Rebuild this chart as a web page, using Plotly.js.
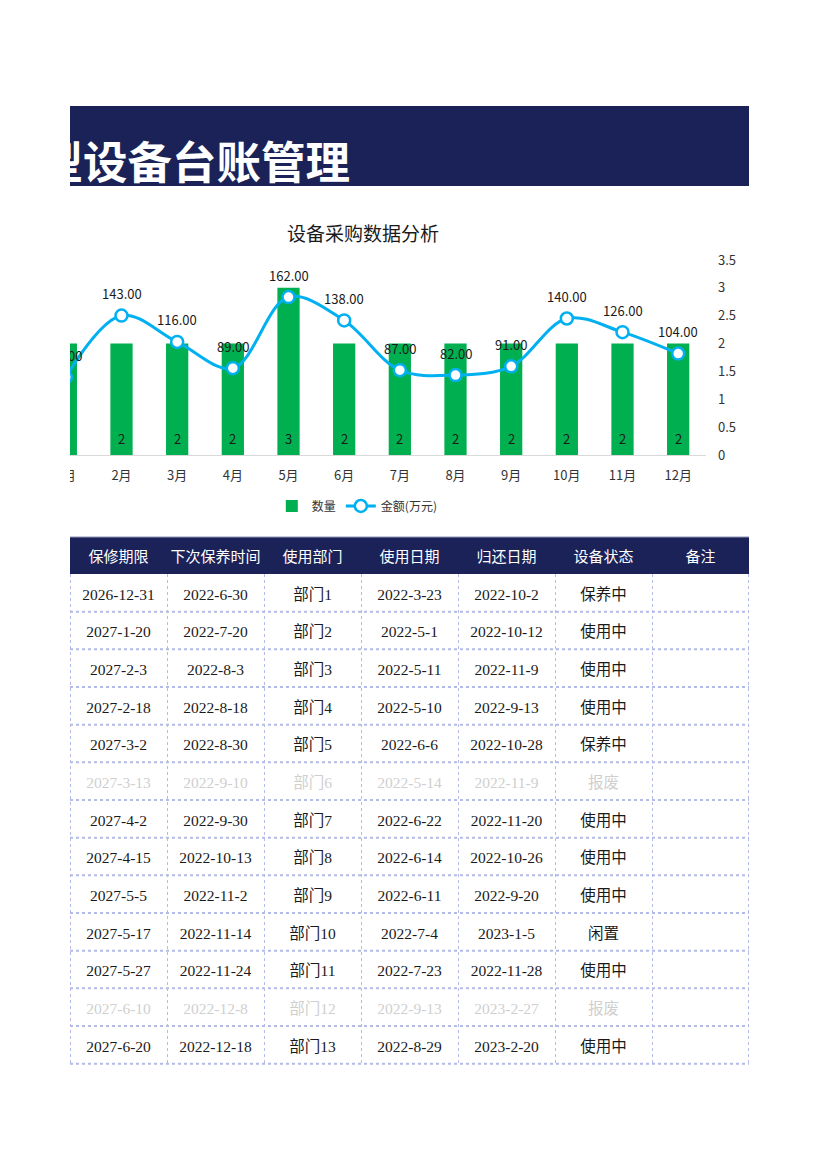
<!DOCTYPE html>
<html>
<head>
<meta charset="utf-8">
<script src="https://cdn.plot.ly/plotly-3.0.1.min.js"></script>
<style>
  html, body { margin: 0; padding: 0; background: #ffffff; }
  body { width: 827px; height: 1170px; position: relative; overflow: hidden; }
  #titlebar { position: absolute; left: 70px; top: 106px; width: 679px; height: 80px; background: #1b2257; overflow: hidden; }
  #titlebar span { position: absolute; left: -76px; top: 31px; font-family: "Noto Sans CJK SC", sans-serif; font-weight: 700; font-size: 44.5px; line-height: 46px; color: #ffffff; white-space: nowrap; }
  #chartclip { position: absolute; left: 70px; top: 195px; width: 679px; height: 335px; overflow: hidden; }
  #chart { position: absolute; left: -70px; top: 0; width: 770px; height: 335px; }
  #table { position: absolute; left: 70px; top: 530px; width: 680px; height: 545px; }
</style>
</head>
<body>
<div id="titlebar"><span>大型设备台账管理</span></div>
<div id="chartclip"><div id="chart"></div></div>
<div id="table"></div>
<script>
// ---------- chart data ----------
const chartTitle = '设备采购数据分析';
const months = ['1月','2月','3月','4月','5月','6月','7月','8月','9月','10月','11月','12月'];
const quantity = [2, 2, 2, 2, 3, 2, 2, 2, 2, 2, 2, 2];
const amount = [80, 143, 116, 89, 162, 138, 87, 82, 91, 140, 126, 104];
const seriesNames = ['数量', '金额(万元)'];
const qtyTicks = [0, 0.5, 1, 1.5, 2, 2.5, 3, 3.5];

// ---------- table data ----------
const headers = ['保修期限','下次保养时间','使用部门','使用日期','归还日期','设备状态','备注'];
const warrantyEnd = ['2026-12-31','2027-1-20','2027-2-3','2027-2-18','2027-3-2','2027-3-13','2027-4-2','2027-4-15','2027-5-5','2027-5-17','2027-5-27','2027-6-10','2027-6-20'];
const nextService = ['2022-6-30','2022-7-20','2022-8-3','2022-8-18','2022-8-30','2022-9-10','2022-9-30','2022-10-13','2022-11-2','2022-11-14','2022-11-24','2022-12-8','2022-12-18'];
const departments = ['部门1','部门2','部门3','部门4','部门5','部门6','部门7','部门8','部门9','部门10','部门11','部门12','部门13'];
const useDate = ['2022-3-23','2022-5-1','2022-5-11','2022-5-10','2022-6-6','2022-5-14','2022-6-22','2022-6-14','2022-6-11','2022-7-4','2022-7-23','2022-9-13','2022-8-29'];
const returnDate = ['2022-10-2','2022-10-12','2022-11-9','2022-9-13','2022-10-28','2022-11-9','2022-11-20','2022-10-26','2022-9-20','2023-1-5','2022-11-28','2023-2-27','2023-2-20'];
const status = ['保养中','使用中','使用中','使用中','保养中','报废','使用中','使用中','使用中','闲置','使用中','报废','使用中'];
const remarks = ['','','','','','','','','','','','',''];

// ---------- styles ----------
const GREEN = '#00b050';
const BLUE = '#00b0f0';
const NAVY = '#1b2257';
const CJK = '"Noto Sans CJK SC", "Noto Sans", sans-serif';
const SERIF = '"Liberation Serif", "Noto Sans CJK SC", serif';

// ---------- chart ----------
const W = 770, H = 335;
const annotations = [];
months.forEach((m, i) => {
  annotations.push({ x: m, y: amount[i], xref: 'x', yref: 'y2', text: amount[i].toFixed(2),
    showarrow: false, yshift: 22, font: { family: CJK, size: 13, color: '#1a1a1a' } });
  annotations.push({ x: m, y: 0, xref: 'x', yref: 'y', text: String(quantity[i]),
    showarrow: false, yshift: 17, font: { family: CJK, size: 13, color: '#1a1a1a' } });
});

const chartTraces = [
  { type: 'bar', name: seriesNames[0], x: months, y: quantity, marker: { color: GREEN },
    width: 0.4, yaxis: 'y', hoverinfo: 'skip' },
  { type: 'scatter', mode: 'lines+markers', name: seriesNames[1], x: months, y: amount, yaxis: 'y2',
    line: { color: BLUE, width: 3, shape: 'spline', smoothing: 1 },
    marker: { symbol: 'circle', size: 12, color: '#ffffff', line: { color: BLUE, width: 2.5 } },
    cliponaxis: false, hoverinfo: 'skip' }
];

const chartLayout = {
  width: W, height: H,
  margin: { l: 37.5, r: 64, t: 65, b: 75, autoexpand: false },
  paper_bgcolor: 'rgba(0,0,0,0)', plot_bgcolor: 'rgba(0,0,0,0)',
  font: { family: CJK, size: 13, color: '#333333' },
  title: { text: chartTitle, x: 363 / W, xref: 'container', xanchor: 'center',
           y: 1 - 39 / H, yref: 'container', yanchor: 'middle',
           font: { family: CJK, size: 19, color: '#1a1a1a' } },
  showlegend: true,
  legend: { orientation: 'h', x: 0.478, xanchor: 'center', y: -0.2615, yanchor: 'middle',
            font: { family: CJK, size: 12, color: '#333333' }, traceorder: 'normal' },
  xaxis: { type: 'category', range: [-0.5, 11.5], automargin: false, showline: true, linecolor: '#d9d9d9', linewidth: 1,
           showgrid: false, zeroline: false, ticks: '', tickfont: { family: CJK, size: 13, color: '#333333' },
           ticklabelstandoff: 8, fixedrange: true },
  yaxis: { side: 'right', range: [0, 3.5], tickvals: qtyTicks, ticktext: qtyTicks.map(String), automargin: false,
           showgrid: false, zeroline: false, showline: false, ticks: '', ticklabelstandoff: 11,
           tickfont: { family: CJK, size: 13, color: '#333333' }, fixedrange: true },
  yaxis2: { overlaying: 'y', side: 'left', range: [0, 200], visible: false, automargin: false, fixedrange: true },
  annotations: annotations,
  hovermode: false
};
Plotly.newPlot('chart', chartTraces, chartLayout, { displayModeBar: false, staticPlot: true });

// ---------- table ----------
const TW = 680, TH = 545;
const headerTop = 7;          // px from top of table div
const textShift = 6;          // centre the text vertically in each row
const headerH = 37;
const rowH = 37.67;
const tableW = 679;
const nRows = warrantyEnd.length;
const columns = [warrantyEnd, nextService, departments, useDate, returnDate, status, remarks];
const rowColor = status.map(s => s === '报废' ? '#cfcfcf' : '#1a1a1a');
const fontColors = columns.map(() => rowColor);

const py = v => 1 - v / TH;
const px = v => v / TW;
const shapes = [];
const gridTop = headerTop + headerH;
const gridBottom = gridTop + nRows * rowH;
// header background
shapes.push({ type: 'rect', xref: 'paper', yref: 'paper', x0: px(0), x1: px(tableW), y0: py(headerTop), y1: py(gridTop),
  fillcolor: NAVY, line: { width: 0 }, layer: 'below' });
// thin line above header
shapes.push({ type: 'line', xref: 'paper', yref: 'paper', x0: px(0), x1: px(tableW), y0: py(headerTop), y1: py(headerTop),
  line: { color: '#8e93b5', width: 1 }, layer: 'above' });
for (let r = 1; r <= nRows; r++) {
  const yy = gridTop + r * rowH;
  shapes.push({ type: 'line', xref: 'paper', yref: 'paper', x0: px(0), x1: px(tableW), y0: py(yy), y1: py(yy),
    line: { color: '#b4bbe8', width: 2, dash: 'dot' }, layer: 'above' });
}
for (let c = 0; c <= headers.length; c++) {
  const xx = Math.min(c * tableW / headers.length, tableW - 1);
  shapes.push({ type: 'line', xref: 'paper', yref: 'paper', x0: px(xx + 0.5), x1: px(xx + 0.5), y0: py(gridTop), y1: py(gridBottom),
    line: { color: '#b4bbe8', width: 1, dash: 'dot' }, layer: 'above' });
}

const tableTrace = {
  type: 'table',
  domain: { x: [0, tableW / TW], y: [0, py(headerTop + textShift)] },
  columnwidth: headers.map(() => 1),
  header: { values: headers, height: headerH, align: 'center',
            fill: { color: 'rgba(0,0,0,0)' }, line: { color: 'rgba(0,0,0,0)', width: 1 },
            font: { family: SERIF, size: 15, color: '#ffffff' } },
  cells: { values: columns, height: rowH, align: 'center',
           fill: { color: 'rgba(0,0,0,0)' }, line: { color: 'rgba(0,0,0,0)', width: 1 },
           font: { family: SERIF, size: 15.5, color: fontColors } }
};
Plotly.newPlot('table', [tableTrace], {
  width: TW, height: TH, margin: { l: 0, r: 0, t: 0, b: 0 },
  paper_bgcolor: 'rgba(0,0,0,0)', shapes: shapes
}, { displayModeBar: false, staticPlot: true });
</script>
</body>
</html>
